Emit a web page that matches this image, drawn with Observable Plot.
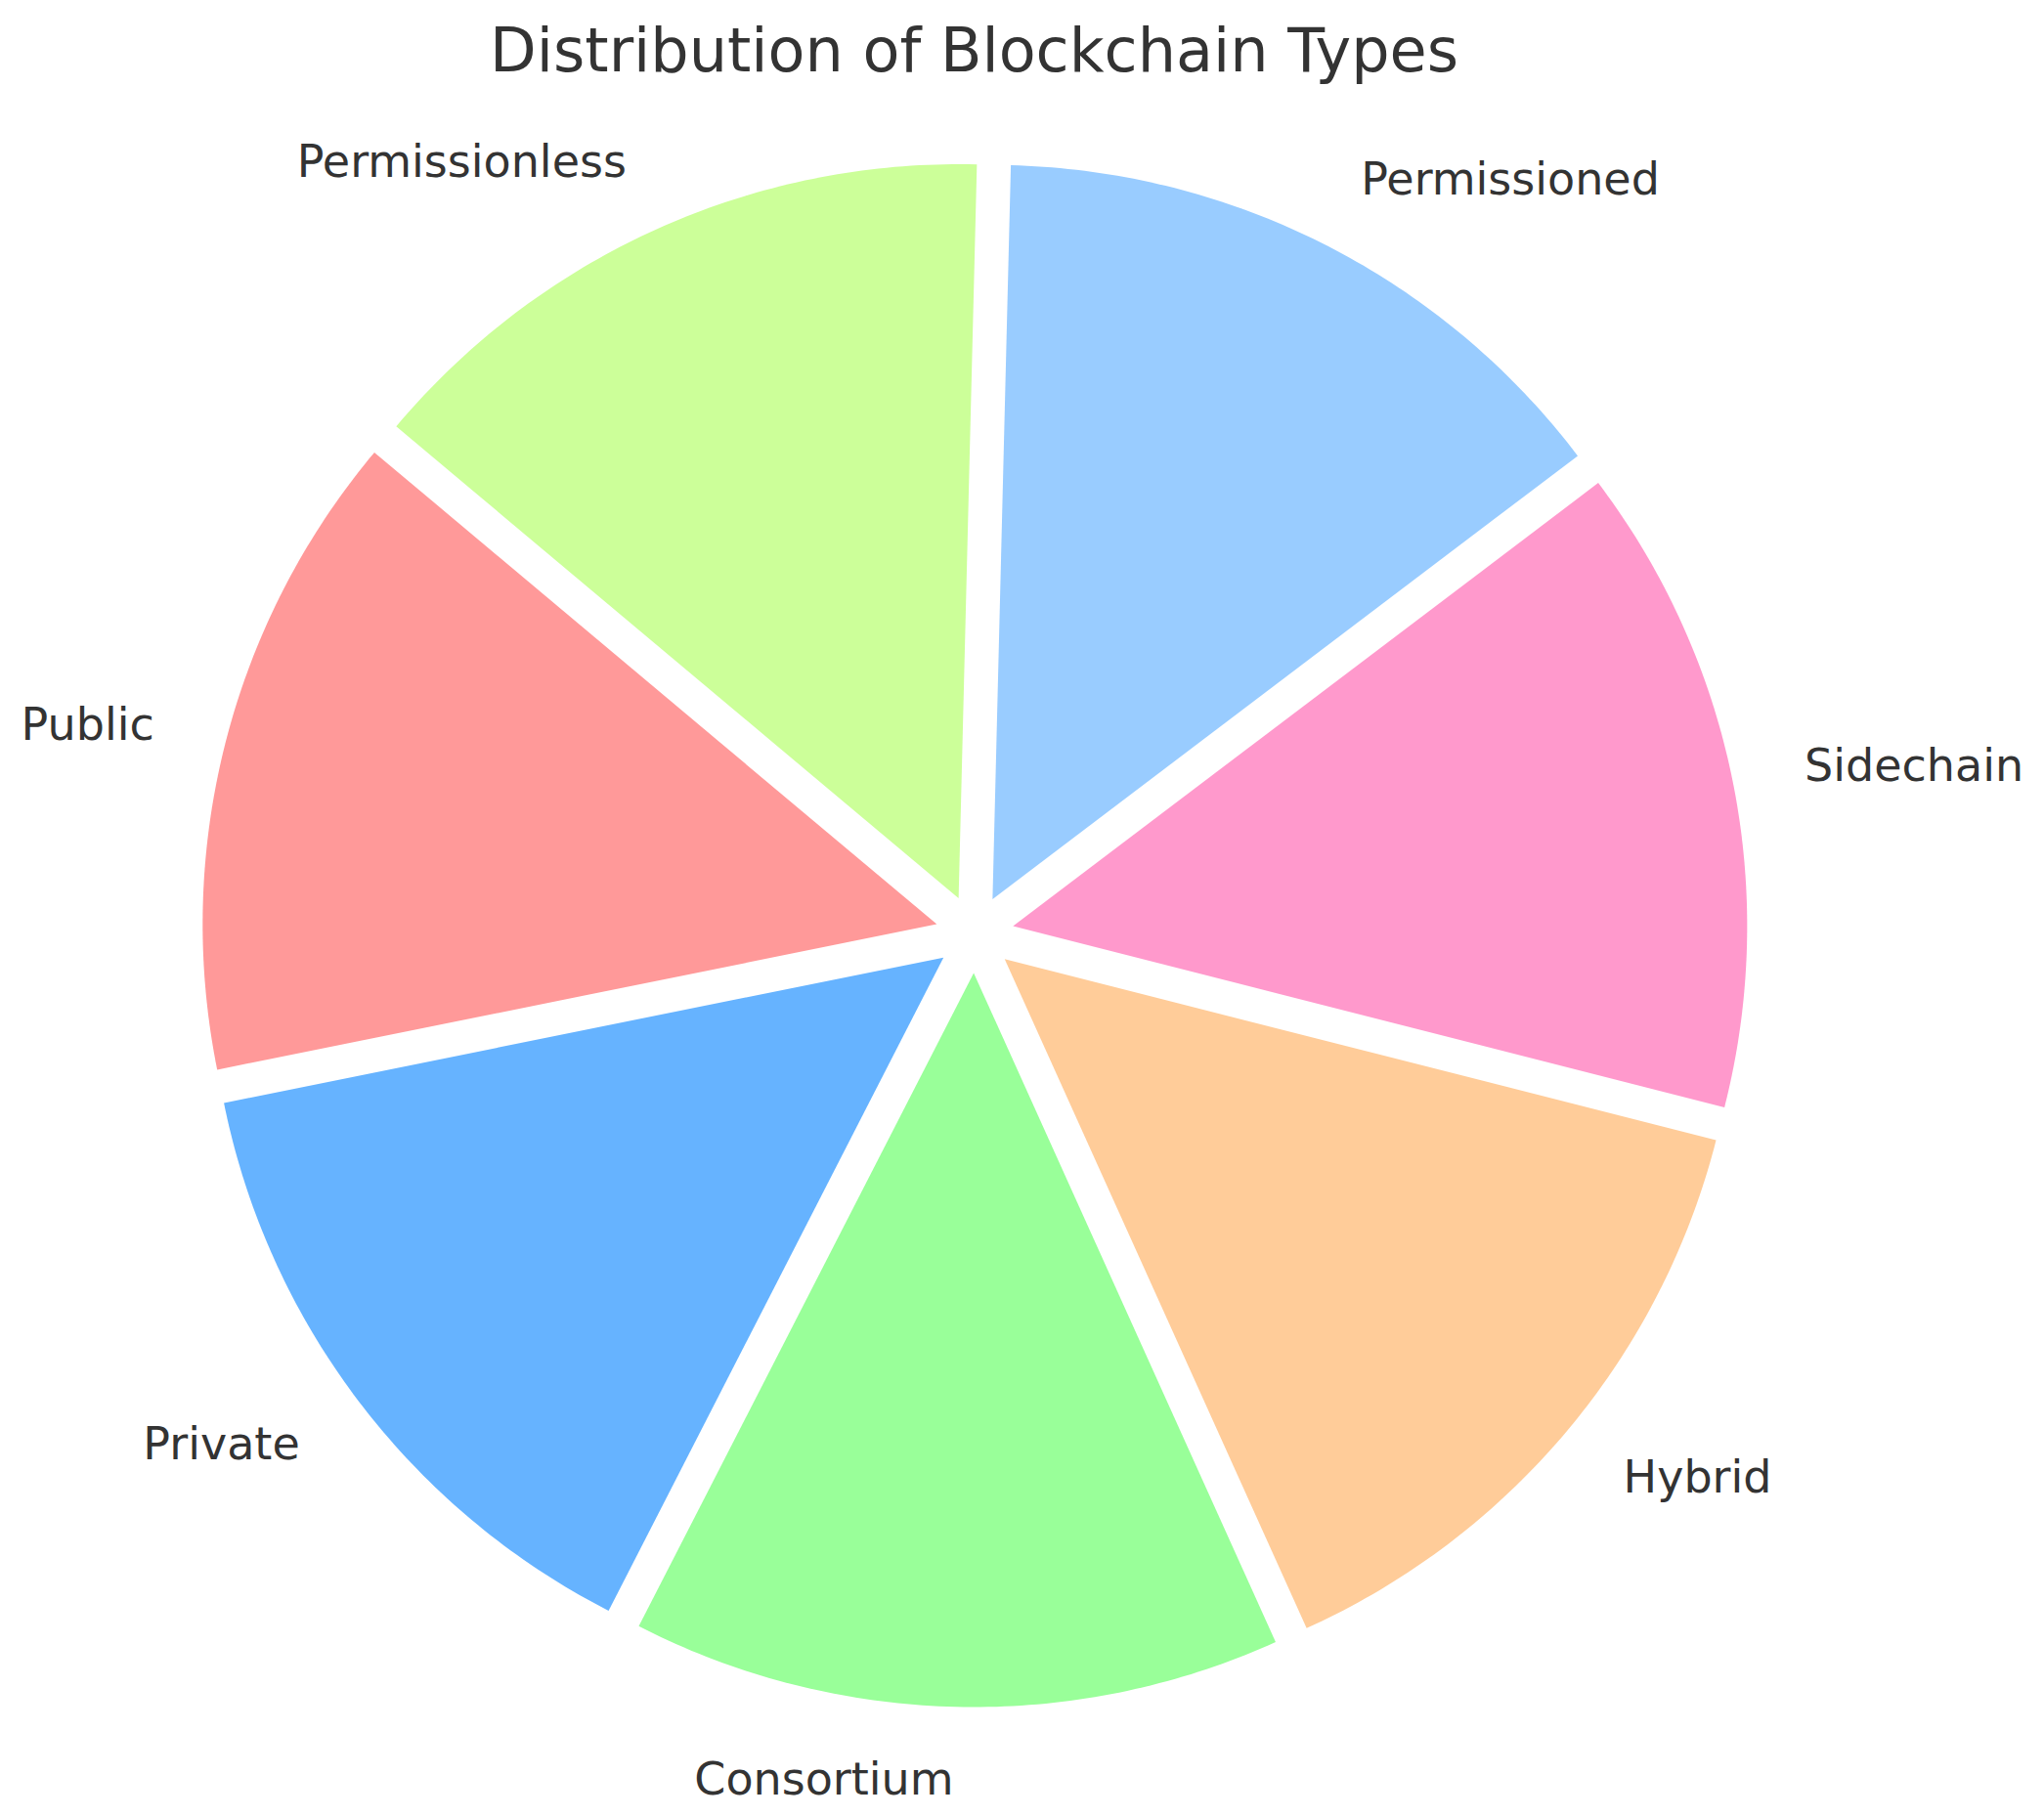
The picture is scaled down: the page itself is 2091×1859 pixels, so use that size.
<!DOCTYPE html>
<html>
<head>
<meta charset="utf-8">
<script src="https://cdn.jsdelivr.net/npm/d3@7"></script>
<script src="https://cdn.jsdelivr.net/npm/@observablehq/plot@0.6"></script>
<style>
  html, body { margin: 0; padding: 0; background: #fff; }
  #title { width: 1993px; height: 100px; line-height: 103px; text-align: center;
           font-family: "DejaVu Sans", sans-serif; font-size: 62px; color: #333; white-space: nowrap; }
  #chart svg { display: block; }
</style>
</head>
<body>
<div id="title">Distribution of Blockchain Types</div>
<div id="chart"></div>
<script>
// ---- data ----
const categories = ["Public", "Private", "Consortium", "Hybrid", "Sidechain", "Permissioned", "Permissionless"];
const values = [15, 15, 15, 15, 15, 15, 15];
const colors = ["#ff9999", "#66b3ff", "#99ff99", "#ffcc99", "#ff99cc", "#99ccff", "#ccff99"];

// ---- layout ----
const W = 2091, H = 1759;
const CX = 996.6, CY = 855, R = 751;   // pie centre and radius in px (svg)
const START_ANGLE = 140;               // degrees, counter-clockwise like matplotlib
const EXPLODE = 0.0533;                // fraction of radius
const LABEL_DIST = 1.1;

const data = categories.map((name, i) => ({name, value: values[i]}));
const arcs = d3.pie().sort(null).value(d => d.value)(data);
const toTheta = a => (START_ANGLE + a / (2 * Math.PI) * 360) * Math.PI / 180;

const points = [];
const labels = [];
for (const arc of arcs) {
  const t1 = toTheta(arc.startAngle), t2 = toTheta(arc.endAngle), tm = (t1 + t2) / 2;
  const ox = EXPLODE * Math.cos(tm), oy = EXPLODE * Math.sin(tm);
  const name = arc.data.name;
  points.push({name, x: ox, y: oy});
  const N = 80;
  for (let k = 0; k <= N; k++) {
    const t = t1 + (t2 - t1) * k / N;
    points.push({name, x: ox + Math.cos(t), y: oy + Math.sin(t)});
  }
  points.push({name, x: ox, y: oy});
  labels.push({name, x: ox + LABEL_DIST * Math.cos(tm), y: oy + LABEL_DIST * Math.sin(tm)});
}

const textStyle = {fontSize: 46, fontFamily: "DejaVu Sans", fill: "#333", lineAnchor: "middle"};

const chart = Plot.plot({
  width: W,
  height: H,
  margin: 0,
  x: {domain: [-CX / R, (W - CX) / R], axis: null},
  y: {domain: [(CY - H) / R, CY / R], axis: null},
  color: {domain: categories, range: colors},
  marks: [
    Plot.line(points, {x: "x", y: "y", z: "name", fill: "name", stroke: "none", curve: "linear"}),
    Plot.text(labels.filter(d => d.x > 0), {x: "x", y: "y", text: "name", textAnchor: "start", ...textStyle}),
    Plot.text(labels.filter(d => d.x <= 0), {x: "x", y: "y", text: "name", textAnchor: "end", ...textStyle})
  ]
});
document.getElementById("chart").appendChild(chart);
</script>
</body>
</html>
